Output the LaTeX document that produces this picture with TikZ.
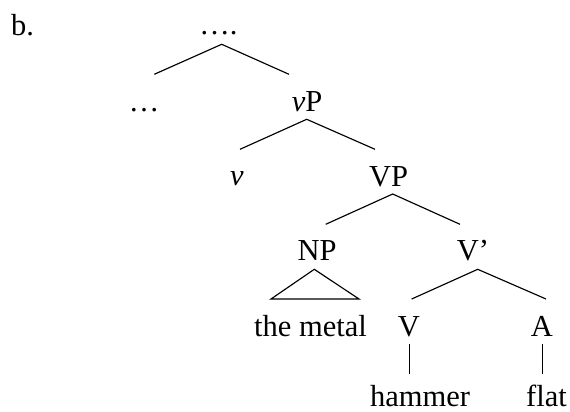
\documentclass[tikz,border=0pt]{standalone}
\usepackage{fontspec}
\setmainfont{Liberation Serif}
\begin{document}
\begin{tikzpicture}[x=1pt,y=-1pt,
  lab/.style={inner sep=0pt,anchor=base,font=\fontsize{30.5}{34}\selectfont},
  br/.style={line width=1.15pt}]
\useasboundingbox (0,0) rectangle (570,412);
% labels
\node[lab,anchor=base west] (b) at (11,36) {b.};
\node[lab] (top) at (218.5,35) {….};
\node[lab] (dots) at (144,111) {…};
\node[lab] (vP) at (307,111) {\textit{v}P};
\node[lab] (v) at (237,185) {\textit{v}};
\node[lab] (VP) at (388.7,186.5) {VP};
\node[lab] (NP) at (317,260) {NP};
\node[lab] (Vbar) at (473,260) {V’};
\node[lab] (metal) at (310.5,336.5) {the metal};
\node[lab] (V) at (409,336.5) {V};
\node[lab] (A) at (542,336.5) {A};
\node[lab] (hammer) at (420,406) {hammer};
\node[lab] (flat) at (546.5,406) {flat};
% branch points
\coordinate (topA) at (221.7,44.3);
\coordinate (topL) at (154.3,74.3);
\coordinate (topR) at (289,74.3);
\coordinate (vPA) at (306.7,119.3);
\coordinate (vPL) at (240,149.3);
\coordinate (vPR) at (375,149.3);
\coordinate (VPA) at (392.7,194);
\coordinate (VPL) at (325.7,224.3);
\coordinate (VPR) at (460,224.3);
\coordinate (NPA) at (314.3,269.3);
\coordinate (NPL) at (271,299);
\coordinate (NPR) at (359,299);
\coordinate (VbA) at (477.7,269.3);
\coordinate (VbL) at (411.7,299);
\coordinate (VbR) at (546,299);
\coordinate (VT) at (409.3,344);
\coordinate (VB) at (409.3,374.3);
\coordinate (AT) at (542.7,344);
\coordinate (AB) at (542.7,374.3);
% branches
\draw[br] (topL) -- (topA) -- (topR);
\draw[br] (vPL) -- (vPA) -- (vPR);
\draw[br] (VPL) -- (VPA) -- (VPR);
\draw[br] (NPA) -- (NPL) -- (NPR) -- cycle;
\draw[br] (VbL) -- (VbA) -- (VbR);
\draw[br] (VT) -- (VB);
\draw[br] (AT) -- (AB);
\end{tikzpicture}
\end{document}
